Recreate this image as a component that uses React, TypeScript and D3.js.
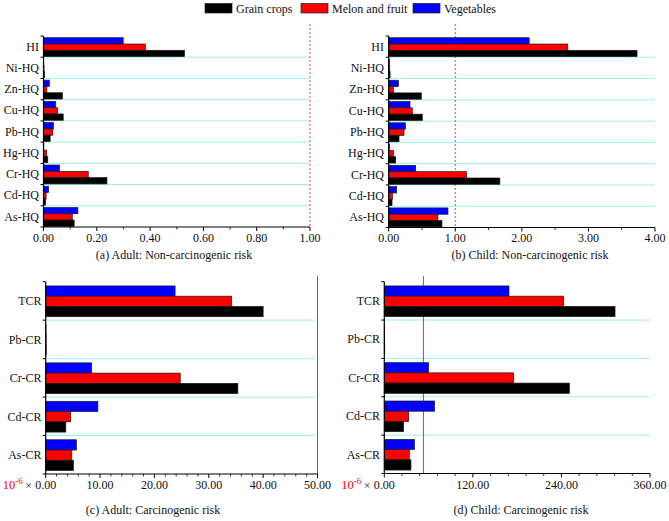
import React from "react";
import * as d3 from "d3";

const seriesNames = ["Grain crops", "Melon and fruit", "Vegetables"];
const seriesColors = ["#000000", "#ff0000", "#0000ff"];

const ncCats = ["HI", "Ni-HQ", "Zn-HQ", "Cu-HQ", "Pb-HQ", "Hg-HQ", "Cr-HQ", "Cd-HQ", "As-HQ"];
const adultNCGrain = [0.529, 0.004, 0.071, 0.074, 0.025, 0.016, 0.238, 0.008, 0.115];
const adultNCMelon = [0.382, 0.002, 0.0125, 0.053, 0.035, 0.012, 0.168, 0.01, 0.108];
const adultNCVeg = [0.299, 0.001, 0.022, 0.046, 0.037, 0.001, 0.06, 0.019, 0.129];

const childNCGrain = [3.73, 0.02, 0.49, 0.505, 0.155, 0.105, 1.67, 0.05, 0.8];
const childNCMelon = [2.69, 0.015, 0.07, 0.355, 0.23, 0.07, 1.17, 0.055, 0.74];
const childNCVeg = [2.11, 0.01, 0.145, 0.32, 0.25, 0.01, 0.405, 0.12, 0.89];

const crCats = ["TCR", "Pb-CR", "Cr-CR", "Cd-CR", "As-CR"];
const adultCRGrain = [40.0, 0.1, 35.35, 3.7, 5.1];
const adultCRMelon = [34.2, 0.08, 24.75, 4.6, 4.8];
const adultCRVeg = [23.8, 0.05, 8.45, 9.6, 5.65];

const childCRGrain = [312.6, 0.6, 250.7, 26.2, 36.1];
const childCRMelon = [243, 0.5, 175.3, 33, 33.9];
const childCRVeg = [168.9, 0.4, 60, 68.2, 40.7];

const FONT = "'Liberation Serif', 'Times New Roman', serif";

type PanelProps = {
  cats: string[];
  grain: number[];
  melon: number[];
  veg: number[];
  max: number;
  majorStep: number;
  minorStep: number;
  x0: number;
  x1: number;
  yTop: number;
  yBot: number;
  barRange: [number, number];
  gridEnd: number;
  title: string;
  titleX: number;
  titleY: number;
  tickY: number;
  labelX: number;
  refValue: number;
  refTop: number;
  refDashed: boolean;
  prefix: boolean;
};

function Panel(p: PanelProps) {
  const x = d3.scaleLinear().domain([0, p.max]).range([p.x0, p.x1]);
  const y = d3.scaleBand<string>().domain(p.cats).range([p.yTop, p.yBot]).padding(0);
  const bw = y.bandwidth();
  const sub = d3
    .scaleBand<string>()
    .domain(["veg", "melon", "grain"])
    .range([bw * p.barRange[0], bw * p.barRange[1]])
    .padding(0);
  const series = [
    { key: "veg", vals: p.veg, color: seriesColors[2] },
    { key: "melon", vals: p.melon, color: seriesColors[1] },
    { key: "grain", vals: p.grain, color: seriesColors[0] },
  ];
  const majors = d3.range(0, p.max + 1e-9, p.majorStep);
  const minors = d3.range(0, p.max + 1e-9, p.minorStep).filter(
    (v) => Math.abs(v / p.majorStep - Math.round(v / p.majorStep)) > 1e-6
  );
  const fmt = d3.format(".2f");
  const boundaries = p.cats.map((c) => y(c)!).concat([p.yBot]);
  return (
    <g>
      {p.cats.slice(1).map((c) => (
        <line
          key={"g" + c}
          x1={p.x0}
          x2={p.gridEnd}
          y1={y(c)!}
          y2={y(c)!}
          stroke="#9eeef2"
          strokeWidth={1}
        />
      ))}
      <line
        x1={x(p.refValue)}
        x2={x(p.refValue)}
        y1={p.refTop}
        y2={p.yBot}
        stroke={p.refDashed ? "#e04848" : "#d83a3a"}
        strokeWidth={1}
        strokeDasharray={p.refDashed ? "2,2" : undefined}
      />
      {p.cats.map((c, i) =>
        series.map((s) => (
          <rect
            key={c + s.key}
            x={x(0)}
            y={y(c)! + sub(s.key)!}
            width={Math.max(0, x(s.vals[i]) - x(0))}
            height={sub.bandwidth()}
            fill={s.color}
            stroke="#1a1a1a"
            strokeWidth={0.7}
          />
        ))
      )}
      <line x1={p.x0} x2={p.x0} y1={p.yTop} y2={p.yBot} stroke="#000" strokeWidth={1.2} />
      <line x1={p.x0} x2={p.x1} y1={p.yBot} y2={p.yBot} stroke="#000" strokeWidth={1.2} />
      {boundaries.map((b, i) => (
        <line key={"yt" + i} x1={p.x0 - 3} x2={p.x0} y1={b} y2={b} stroke="#000" strokeWidth={1} />
      ))}
      {majors.map((v) => (
        <line key={"mj" + v} x1={x(v)} x2={x(v)} y1={p.yBot} y2={p.yBot + 4} stroke="#000" strokeWidth={1} />
      ))}
      {minors.map((v) => (
        <line key={"mn" + v} x1={x(v)} x2={x(v)} y1={p.yBot} y2={p.yBot + 2.5} stroke="#000" strokeWidth={0.8} />
      ))}
      {majors.map((v) => (
        <text
          key={"tl" + v}
          x={x(v)}
          y={p.tickY}
          textAnchor="middle"
          fontFamily={FONT}
          fontSize={12}
          fill="#111"
        >
          {fmt(v)}
        </text>
      ))}
      {p.prefix && (
        <text x={x(0) - 14} y={p.tickY} textAnchor="end" fontFamily={FONT} fontSize={12.5}>
          <tspan fill="#ff0000">10</tspan>
          <tspan fill="#ff0000" fontSize={9} dy={-5}>
            -6
          </tspan>
          <tspan fill="#111" dy={5} fontSize={11}>
            {" ×"}
          </tspan>
        </text>
      )}
      {p.cats.map((c) => (
        <text
          key={"cl" + c}
          x={p.labelX}
          y={y(c)! + bw / 2}
          dy="0.35em"
          textAnchor="end"
          fontFamily={FONT}
          fontSize={12}
          fill="#111"
        >
          {c}
        </text>
      ))}
      <text x={p.titleX} y={p.titleY} textAnchor="middle" fontFamily={FONT} fontSize={12} fill="#111">
        {p.title}
      </text>
    </g>
  );
}

export default function App() {
  const legendItems = [
    { name: seriesNames[0], color: seriesColors[0], x: 205 },
    { name: seriesNames[1], color: seriesColors[1], x: 301 },
    { name: seriesNames[2], color: seriesColors[2], x: 413 },
  ];
  return (
    <svg
      width={669}
      height={521}
      style={{ position: "absolute", left: 0, top: 0, background: "#fff" }}
    >
      <rect x={0} y={0} width={669} height={521} fill="#fff" />
      {legendItems.map((l) => (
        <g key={l.name}>
          <rect x={l.x} y={3.5} width={27} height={9.5} fill={l.color} stroke="#222" strokeWidth={0.7} />
          <text x={l.x + 31} y={12.5} fontFamily={FONT} fontSize={12} fill="#111">
            {l.name}
          </text>
        </g>
      ))}
      <Panel
        cats={ncCats}
        grain={adultNCGrain}
        melon={adultNCMelon}
        veg={adultNCVeg}
        max={1}
        majorStep={0.2}
        minorStep={0.1}
        x0={43.5}
        x1={310}
        yTop={36}
        yBot={227}
        barRange={[0.08, 0.97]}
        gridEnd={310}
        title="(a) Adult: Non-carcinogenic risk"
        titleX={174}
        titleY={259}
        tickY={242}
        labelX={39}
        refValue={1}
        refTop={24}
        refDashed={true}
        prefix={false}
      />
      <Panel
        cats={ncCats}
        grain={childNCGrain}
        melon={childNCMelon}
        veg={childNCVeg}
        max={4}
        majorStep={1}
        minorStep={0.5}
        x0={388.7}
        x1={655}
        yTop={36}
        yBot={227.5}
        barRange={[0.08, 0.97]}
        gridEnd={655}
        title="(b) Child: Non-carcinogenic risk"
        titleX={530}
        titleY={259}
        tickY={242}
        labelX={384}
        refValue={1}
        refTop={24}
        refDashed={true}
        prefix={false}
      />
      <Panel
        cats={crCats}
        grain={adultCRGrain}
        melon={adultCRMelon}
        veg={adultCRVeg}
        max={50}
        majorStep={10}
        minorStep={2}
        x0={45.7}
        x1={317.5}
        yTop={281.7}
        yBot={474}
        barRange={[0.11, 0.91]}
        gridEnd={315}
        title="(c) Adult: Carcinogenic risk"
        titleX={153}
        titleY={514}
        tickY={489}
        labelX={41.5}
        refValue={50}
        refTop={276}
        refDashed={false}
        prefix={true}
      />
      <Panel
        cats={crCats}
        grain={childCRGrain}
        melon={childCRMelon}
        veg={childCRVeg}
        max={360}
        majorStep={120}
        minorStep={24}
        x0={384.3}
        x1={650}
        yTop={281.7}
        yBot={473.5}
        barRange={[0.11, 0.91]}
        gridEnd={650}
        title="(d) Child: Carcinogenic risk"
        titleX={521}
        titleY={514}
        tickY={489}
        labelX={380}
        refValue={53}
        refTop={276}
        refDashed={false}
        prefix={true}
      />
    </svg>
  );
}
